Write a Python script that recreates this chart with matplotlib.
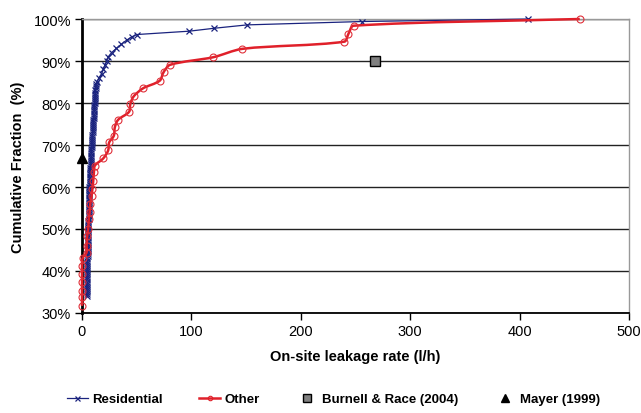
import matplotlib
matplotlib.use('Agg')
import math
import matplotlib.pyplot as plt
from matplotlib.path import Path
from matplotlib.patches import PathPatch
from matplotlib.ticker import FuncFormatter

plt.rcParams['font.family'] = ['Liberation Sans', 'DejaVu Sans']

# Residential: leakage rate (l/h) and cumulative fraction (%)
res_x = [4.2, 4.25, 4.3, 4.35, 4.4, 4.45, 4.5, 4.55, 4.6, 4.65, 4.7, 4.75, 4.8, 4.85,
         4.9, 4.95, 5.0, 5.0, 5.0, 5.05, 5.1, 5.15, 5.2, 5.25, 5.3, 5.35, 5.4, 5.45,
         5.5, 5.55, 5.6, 5.65, 5.7, 5.75, 5.8, 5.85, 5.9, 5.95, 6.0, 6.05, 6.1, 6.15,
         6.2, 6.25, 6.3, 6.35, 6.4, 6.45, 6.5, 6.55, 6.6, 6.7, 6.8, 6.9, 7.0, 7.1,
         7.2, 7.3, 7.4, 7.5, 7.6, 7.7, 7.8, 7.9, 8.0, 8.1, 8.2, 8.3, 8.4, 8.5,
         8.6, 8.7, 8.8, 8.95, 9.1, 9.25, 9.4, 9.55, 9.7, 9.85, 10.0, 10.15, 10.3, 10.4,
         10.5, 10.65, 10.8, 10.9, 11.0, 11.15, 11.3, 11.4, 11.5, 11.65, 11.8, 11.9,
         12.0, 12.15, 12.3, 12.45, 12.6, 12.9, 13.5,
         15.5, 18.0, 19.5, 21.0, 22.5, 24.0, 27.0, 31.5, 36.0, 41.0, 46.0, 50.0,
         98.0, 121.0, 151.0, 256.0, 408.0]
res_y = [34, 34.5, 35, 35.5, 36, 36.5, 37, 37.5, 38, 38.5, 39, 39.5, 40, 40.5,
         41, 41.5, 42, 42.5, 43, 43.5, 44, 44.5, 45, 45.5, 46, 46.5, 47, 47.5,
         48, 48.5, 49, 49.5, 50, 50.5, 51, 51.5, 52, 52.5, 53, 53.5, 54, 54.5,
         55, 55.5, 56, 56.5, 57, 57.5, 58, 58.5, 59, 59.5, 60, 60.5, 61, 61.5,
         62, 62.5, 63, 63.5, 64, 64.5, 65, 65.5, 66, 66.5, 67, 67.5, 68, 68.5,
         69, 69.5, 70, 70.5, 71, 71.5, 72, 72.5, 73, 73.5, 74, 74.5, 75, 75.5,
         76, 76.5, 77, 77.5, 78, 78.5, 79, 79.5, 80, 80.5, 81, 81.5,
         82, 82.5, 83, 83.5, 84, 84.5, 85,
         86, 87, 88, 89, 90, 91, 92, 93, 94, 95, 95.8, 96.3,
         97.1, 97.8, 98.6, 99.4, 100]

# Other
oth_x = [0, 0, 0, 0, 0, 0, 0.5, 4.2, 4.2, 4.8, 5.7, 6.2, 7.0, 7.6, 8.8, 9.5,
         10.3, 10.9, 11.8, 19.4, 23.9, 24.8, 29.1, 30.0, 33.0, 43.0, 44.2, 47.3,
         55.8, 71.0, 74.5, 80.6, 120.0, 146.7, 239.7, 243.6, 248.2, 455.0]
oth_y = [31.7, 33.7, 35.3, 37.3, 39.3, 41.3, 43.0, 44.4, 46.0, 48.4, 50.0, 52.4,
         54.0, 56.0, 57.9, 59.5, 61.5, 63.5, 65.1, 66.8, 68.7, 70.6, 72.2, 74.2,
         76.0, 77.9, 79.8, 81.6, 83.5, 85.3, 87.3, 89.1, 90.9, 92.9, 94.6, 96.5,
         98.4, 100]

burnell_x = [268]
burnell_y = [90]
mayer_x = [0]
mayer_y = [67]

RED = '#e0202a'
BLUE = '#1a237e'
SX, SY = 1.1, 4.2  # rough px per data unit, keeps the curve shape isotropic


def smooth_path(xs, ys, k=0.3):
    # smoothed line like excel: bezier through every point, tangents limited by segment length
    pts = [(x * SX, y * SY) for x, y in zip(xs, ys)]
    n = len(pts)

    def tangent(i):
        a = pts[max(i - 1, 0)]
        b = pts[min(i + 1, n - 1)]
        dx, dy = b[0] - a[0], b[1] - a[1]
        d = math.hypot(dx, dy) or 1.0
        return dx / d, dy / d

    verts = [(xs[0], ys[0])]
    codes = [Path.MOVETO]
    for i in range(n - 1):
        p1, p2 = pts[i], pts[i + 1]
        seg = math.hypot(p2[0] - p1[0], p2[1] - p1[1])
        t1, t2 = tangent(i), tangent(i + 1)
        c1 = (p1[0] + t1[0] * seg * k, p1[1] + t1[1] * seg * k)
        c2 = (p2[0] - t2[0] * seg * k, p2[1] - t2[1] * seg * k)
        for c in (c1, c2, p2):
            verts.append((c[0] / SX, c[1] / SY))
        codes += [Path.CURVE4] * 3
    return Path(verts, codes)


fig = plt.figure(figsize=(6.41, 4.14), dpi=100)
ax = fig.add_axes([82 / 641, 100 / 414, 547 / 641, 294 / 414])

ax.plot(res_x, res_y, color=BLUE, lw=0.9, marker='x', ms=4.5, mew=0.9,
        label='Residential', zorder=3, clip_on=False)

ax.add_patch(PathPatch(smooth_path(oth_x, oth_y), fc='none', ec=RED, lw=1.8,
                       zorder=4, clip_on=False))
ax.plot(oth_x, oth_y, ls='none', marker='o', ms=5, mfc='none', mec='#e0303a',
        mew=0.8, zorder=4, clip_on=False)
ax.plot([], [], color=RED, lw=1.8, marker='o', ms=4, mfc='none', mec=RED,
        mew=0.8, label='Other')

ax.plot(burnell_x, burnell_y, ls='none', marker='s', ms=6.5, mfc='#808080',
        mec='black', mew=1, label='Burnell & Race (2004)', zorder=5)
ax.plot(mayer_x, mayer_y, ls='none', marker='^', ms=6.5, color='black',
        label='Mayer (1999)', zorder=5, clip_on=False)

ax.set_xlim(0, 500)
ax.set_ylim(30, 100)
ax.set_xticks(range(0, 501, 100))
ax.set_yticks(range(30, 101, 10))
ax.yaxis.set_major_formatter(FuncFormatter(lambda v, p: '%d%%' % v))
ax.grid(axis='y', color='#222222', lw=1)
ax.set_axisbelow(True)

for s in ['top', 'right']:
    ax.spines[s].set_color('#999999')
    ax.spines[s].set_linewidth(1)
ax.spines['left'].set_linewidth(2)
ax.spines['bottom'].set_linewidth(1.3)
ax.spines['left'].set_zorder(2)
ax.tick_params(direction='out', length=5, width=1, labelsize=10.5, pad=3)

ax.set_xlabel('On-site leakage rate (l/h)', fontsize=10.5, fontweight='bold', labelpad=8)
ax.set_ylabel('Cumulative Fraction  (%)', fontsize=10.5, fontweight='bold', labelpad=6)

leg = fig.legend(loc='lower center', bbox_to_anchor=(0.52, -0.01), ncol=4, frameon=False,
                 prop={'weight': 'bold', 'size': 9.5}, handlelength=1.6,
                 handletextpad=0.3, columnspacing=2.8, markerscale=0.8)

fig.savefig('out.png', dpi=100)
